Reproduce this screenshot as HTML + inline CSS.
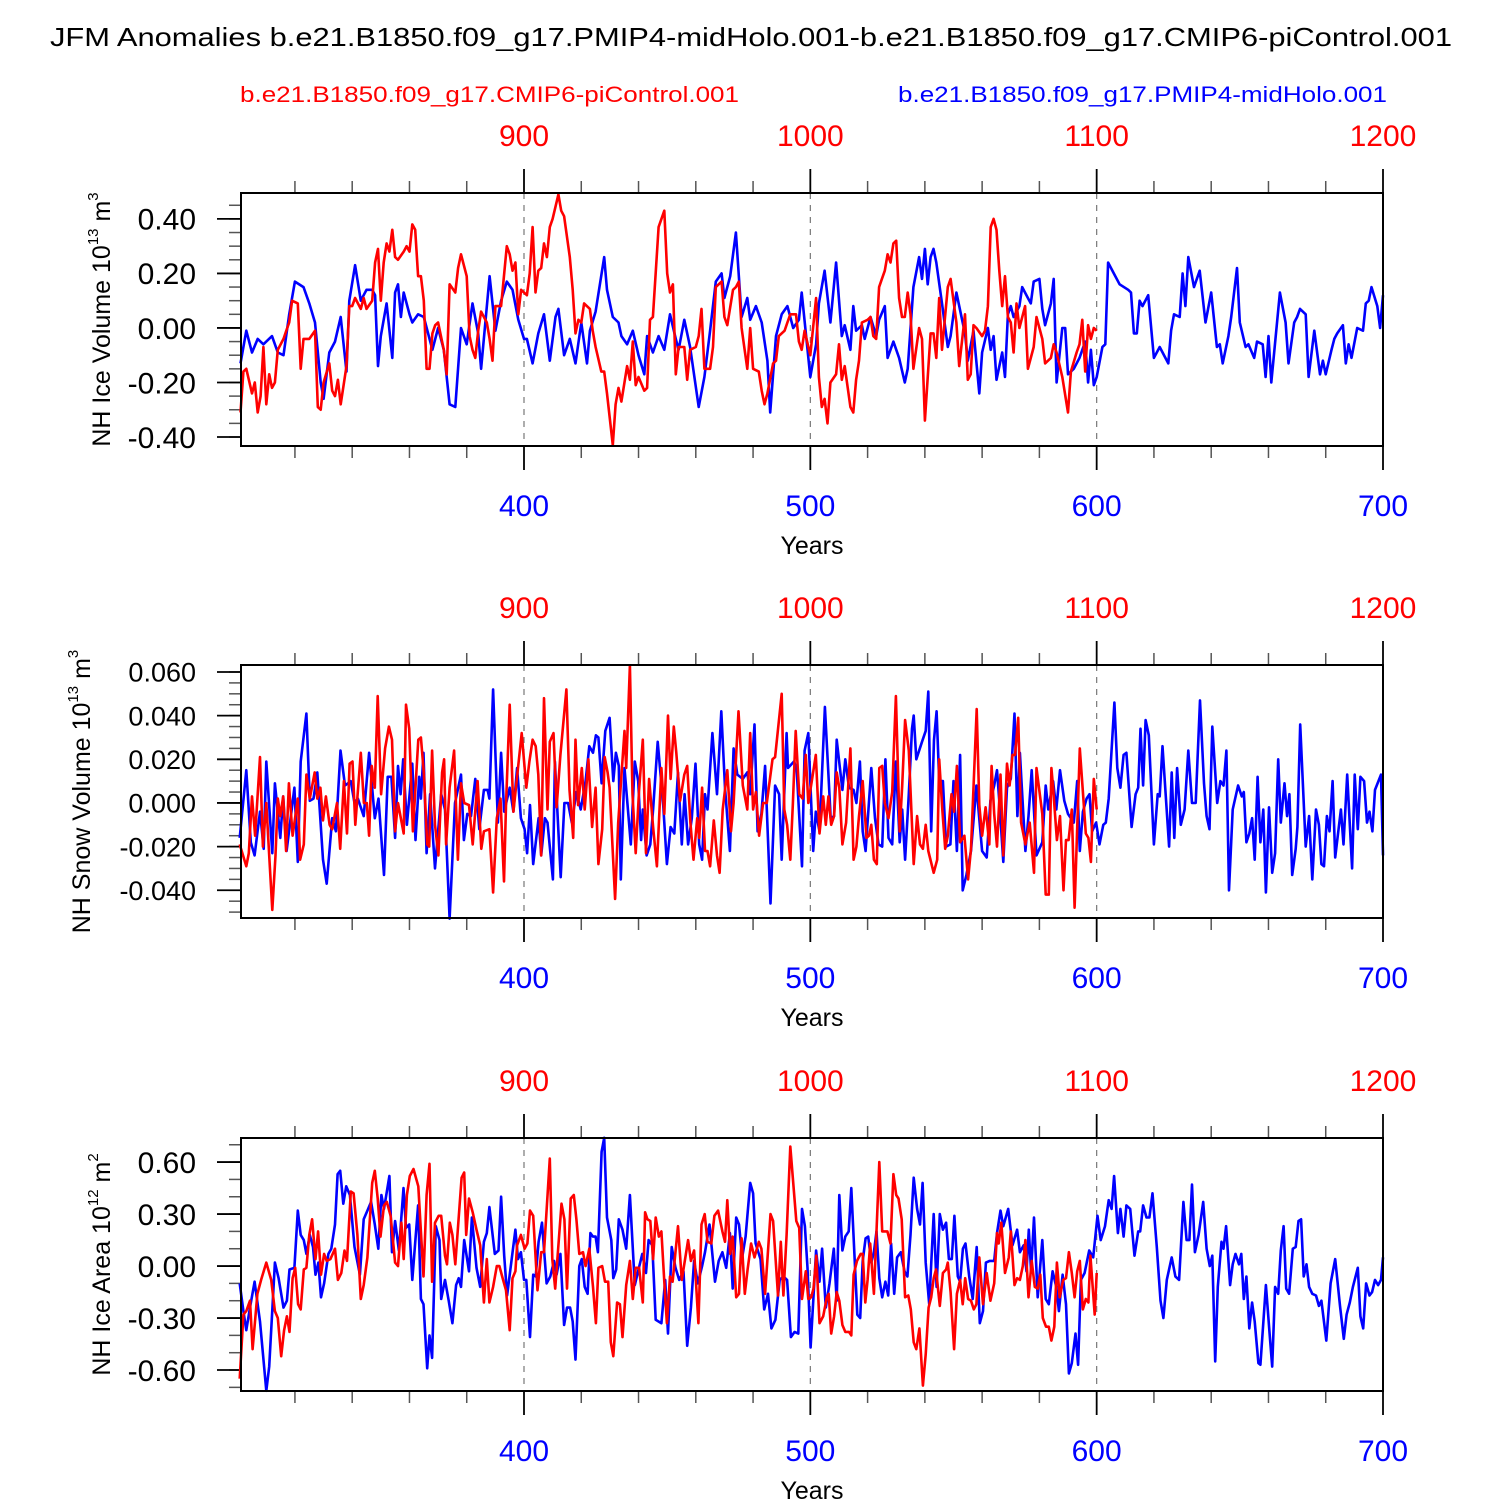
<!DOCTYPE html>
<html><head><meta charset="utf-8"><title>JFM Anomalies</title>
<style>html,body{margin:0;padding:0;background:#fff;}svg{display:block;font-family:"Liberation Sans",sans-serif;}</style>
</head><body>
<svg id="chart" width="1500" height="1500" viewBox="0 0 1500 1500" xmlns="http://www.w3.org/2000/svg">
<rect x="0" y="0" width="1500" height="1500" fill="#fff"/>
<text x="50" y="46" font-size="26" textLength="1402" lengthAdjust="spacingAndGlyphs" fill="#000">JFM Anomalies b.e21.B1850.f09_g17.PMIP4-midHolo.001-b.e21.B1850.f09_g17.CMIP6-piControl.001</text>
<text x="240" y="102" font-size="22" textLength="499" lengthAdjust="spacingAndGlyphs" fill="#ff0000">b.e21.B1850.f09_g17.CMIP6-piControl.001</text>
<text x="898" y="102" font-size="22" textLength="489" lengthAdjust="spacingAndGlyphs" fill="#0000ff">b.e21.B1850.f09_g17.PMIP4-midHolo.001</text>
<g id="panels"></g>
</svg>
<script>
// ---------- Panel 1: NH Ice Volume ----------
const p1BlueYears=[301,303,305,307,309,312,314,316,318,320,323,325,327,329,330,332,334,336,338,339,341,343,345,347,348,349,350,352,354,355,356,357,358,360,361,363,365,368,370,372,374,376,378,380,382,384,385,388,390,392,394,396,398,400,401,403,405,407,409,411,412,414,416,418,420,422,423,425,428,429,431,433,434,436,438,440,442,443,445,447,449,451,453,454,456,458,461,463,465,467,469,470,472,474,476,478,479,481,483,485,486,488,490,492,494,496,497,500,502,
503,505,507,509,511,512,514,515,516,518,519,521,523,524,526,527,529,531,533,534,536,538,539,540,541,542,543,544,546,548,549,551,553,554,555,557,559,560,562,563,564,565,567,568,569,570,571,573,574,576,577,578,580,581,582,584,585,586,588,589,590,592,594,596,597,598,599,600,602,603,604,606,608,611,612,613,614,615,616,618,620,622,624,625,626,627,629,630,631,632,634,636,638,640,642,643,644,646,647,649,650,652,653,655,656,658,659,660,661,664,666,667,669,670,671,673,674,676,678,679,680,682,683,684,686,687,688,689,691,693,694,695,696,698,699,700];
const p1BlueVals=[-0.13,-0.01,-0.09,-0.04,-0.06,-0.03,-0.09,-0.10,0.05,0.17,0.15,0.09,0.02,-0.20,-0.26,-0.09,-0.05,0.04,-0.16,0.10,0.23,0.10,0.14,0.14,0.12,-0.14,-0.03,0.09,-0.11,0.13,0.16,0.04,0.13,0.05,0.02,0.05,0.04,-0.08,0.00,-0.08,-0.28,-0.29,0.00,-0.06,0.09,-0.02,-0.15,0.19,-0.01,0.10,0.17,0.14,0.03,-0.04,-0.04,-0.13,-0.02,0.05,-0.12,0.04,0.07,-0.10,-0.04,-0.13,0.02,-0.13,-0.01,0.06,0.26,0.14,0.04,0.02,-0.03,-0.06,-0.01,-0.10,-0.17,-0.03,-0.09,-0.03,-0.08,0.05,-0.04,-0.08,0.03,-0.07,-0.29,-0.18,-0.01,0.17,0.20,0.11,0.19,0.35,0.04,0.11,0.03,0.08,0.02,-0.12,-0.31,-0.03,0.05,0.08,0.00,0.03,0.13,-0.18,-0.06,
0.09,0.21,0.02,0.24,-0.03,0.01,-0.08,0.08,-0.01,0.01,-0.04,0.04,-0.03,0.03,0.08,-0.11,-0.05,-0.11,-0.20,-0.15,0.15,0.26,0.18,0.29,0.16,0.26,0.29,0.24,0.09,-0.07,-0.03,0.13,0.03,-0.02,-0.12,-0.01,-0.24,-0.09,0.00,-0.08,-0.03,-0.19,-0.09,-0.18,0.05,0.08,0.04,0.08,0.15,0.11,0.09,0.17,0.18,0.07,0.01,0.09,0.18,-0.20,0.00,0.00,-0.17,-0.15,-0.11,-0.05,-0.20,-0.08,-0.21,-0.18,-0.07,-0.06,0.24,0.20,0.16,0.14,0.13,-0.02,-0.02,0.10,0.08,0.12,-0.11,-0.07,-0.11,-0.13,-0.01,0.05,0.04,0.20,0.08,0.26,0.15,0.21,0.02,0.13,-0.07,-0.06,-0.13,-0.03,0.04,0.22,0.02,-0.07,-0.06,-0.11,-0.05,-0.06,-0.18,-0.03,-0.20,0.13,0.02,-0.13,0.02,0.04,0.07,0.05,-0.18,-0.01,-0.17,-0.12,-0.17,-0.08,-0.04,-0.02,0.01,-0.13,-0.06,-0.11,0.00,-0.01,0.09,0.10,0.15,0.08,0.00,0.12];
const p1RedYears=[801,802,803,805,806,807,808,809,810,811,812,813,814,816,817,818,819,821,822,823,825,827,828,829,830,832,833,834,835,836,838,839,840,841,843,844,845,847,848,849,850,851,852,853,854,855,856,858,859,860,861,862,863,864,865,866,867,868,869,870,872,873,874,876,877,878,880,881,882,883,884,885,887,888,889,890,892,894,895,896,897,898,899,901,902,903,904,905,906,907,908,909,910,912,913,914,916,917,918,919,920,921,923,924,925,927,928,929,931,932,933,934,936,937,938,939,940,942,943,944,945,947,949,950,951,952,953,954,956,957,958,960,961,962,963,965,966,967,969,970,971,973,974,975,976,978,979,980,982,983,984,985,987,988,989,991,992,993,995,996,997,998,1000,1002,1003,1004,1005,1006,1007,1009,1010,1011,1012,1014,1015,1016,1017,1018,1020,1021,1022,1023,1024,1025,1026,1027,1028,1029,1030,1031,1032,1033,1034,1035,1036,1038,1039,1040,1042,1043,1044,1045,1046,1048,1049,1051,1052,1054,1055,1056,1057,1058,1060,1061,1062,1063,1064,1065,1066,1067,1068,1069,1070,1071,1072,1073,1075,1076,1078,1079,1081,1082,1084,1085,1086,1088,1090,1091,1093,1094,1095,1096,1097,1098,1099,1100];
const p1RedVals=[-0.31,-0.16,-0.15,-0.24,-0.20,-0.31,-0.25,-0.07,-0.28,-0.17,-0.22,-0.20,-0.08,-0.04,-0.01,0.02,0.10,0.09,-0.15,-0.04,-0.04,-0.01,-0.29,-0.30,-0.20,-0.13,-0.23,-0.25,-0.19,-0.28,-0.14,0.08,0.08,0.11,0.07,0.11,0.07,0.10,0.24,0.29,0.10,0.24,0.31,0.28,0.36,0.26,0.25,0.28,0.30,0.28,0.38,0.36,0.19,0.19,0.10,-0.15,-0.15,-0.02,0.01,0.02,-0.08,-0.17,0.16,0.13,0.22,0.27,0.19,-0.03,-0.08,-0.11,-0.01,0.06,0.02,-0.04,-0.12,0.08,0.08,0.30,0.27,0.21,0.24,0.05,0.14,0.12,0.20,0.37,0.13,0.21,0.22,0.31,0.26,0.37,0.40,0.49,0.43,0.41,0.26,0.14,-0.02,0.03,0.02,0.09,0.07,-0.01,-0.07,-0.16,-0.16,-0.24,-0.43,-0.28,-0.22,-0.27,-0.14,-0.19,-0.05,-0.21,-0.18,-0.23,-0.22,0.03,0.04,0.37,0.43,0.20,0.13,0.16,-0.17,-0.07,-0.07,-0.19,-0.08,-0.07,-0.03,0.07,-0.15,-0.15,-0.07,0.15,0.17,0.04,0.01,0.14,0.15,0.17,0.00,-0.15,0.00,-0.15,-0.16,-0.23,-0.28,-0.24,-0.13,-0.12,-0.03,-0.01,0.02,0.05,0.05,-0.05,-0.08,-0.01,-0.10,0.11,-0.18,-0.29,-0.26,-0.35,-0.20,-0.17,-0.06,-0.19,-0.14,-0.29,-0.31,-0.19,-0.12,0.02,0.03,0.04,-0.03,-0.04,0.15,0.18,0.21,0.27,0.24,0.31,0.32,0.11,0.04,0.04,0.13,0.05,-0.15,0.00,-0.04,-0.34,-0.02,-0.02,-0.11,0.11,-0.08,0.15,0.18,0.02,-0.14,0.05,-0.19,-0.17,0.01,0.00,-0.03,-0.01,0.08,0.37,0.40,0.36,0.21,0.08,0.19,0.04,0.02,-0.09,0.09,0.00,0.08,-0.15,-0.07,0.04,-0.04,-0.13,-0.11,-0.06,-0.09,-0.18,-0.31,-0.16,-0.09,-0.06,0.03,-0.16,0.01,-0.04,0.00,-0.01];

// ---------- Panel 2: NH Snow Volume ----------
const p2BlueYears=[300.7,303.0,304.6,305.9,307.8,309.1,310.0,312.1,313.0,314.9,315.9,317.1,319.8,321.0,322.0,324.0,325.2,326.5,327.8,329.8,331.1,333.0,334.3,335.9,337.5,339.5,340.8,342.0,344.0,345.9,347.9,349.2,351.1,352.4,353.7,355.0,356.0,356.9,357.8,359.1,361.0,362.1,363.4,364.0,364.9,366.0,367.2,368.9,371.1,372.4,374.0,375.9,378.0,379.0,380.2,381.5,383.0,384.4,386.0,387.3,387.9,389.2,390.9,392.0,393.1,395.0,396.3,397.6,398.9,400.2,401.1,402.1,403.2,405.1,406.0,407.3,408.2,410.1,410.8,412.8,414.1,415.4,416.7,418.3,419.8,421.5,422.8,424.1,425.1,426.0,427.1,428.4,429.9,431.2,432.1,433.1,433.8,435.1,437.3,438.7,439.9,440.9,441.5,442.8,444.1,445.1,446.7,448.6,449.9,451.2,452.5,453.8,455.1,456.1,457.3,458.6,459.9,461.2,462.2,463.2,464.1,465.8,467.4,468.9,470.2,471.9,473.2,474.5,476.4,478.0,479.0,480.5,481.6,482.9,484.2,486.1,487.7,489.1,490.0,491.7,492.2,494.3,495.2,497.1,498.0,499.3,501.0,
501.9,503.2,505.1,507.1,508.3,509.2,511.2,512.2,513.5,515.1,516.1,517.3,518.3,519.3,521.3,522.6,523.8,525.1,526.2,527.3,528.6,529.9,531.2,532.1,533.1,534.4,535.5,536.1,537.0,539.0,540.3,541.2,542.2,543.2,544.1,545.0,546.3,547.4,548.9,550.0,551.2,552.3,553.2,554.5,556.1,558.0,560.0,561.6,562.9,564.2,565.2,566.1,567.4,568.7,570.0,571.3,572.3,573.2,573.8,575.1,576.2,577.3,579.0,581.0,582.2,583.1,584.8,585.9,587.2,588.7,590.0,592.0,593.2,594.1,595.2,596.5,597.5,598.4,599.8,601.0,602.3,603.2,604.2,606.2,607.2,608.3,609.4,610.4,612.2,613.6,614.5,615.3,616.2,617.1,618.2,620.0,621.3,622.0,623.0,625.3,626.2,627.1,628.1,629.4,630.7,632.0,633.3,634.6,636.1,637.5,638.4,639.4,640.4,642.1,643.2,644.3,645.3,646.2,647.5,649.4,650.7,651.4,652.3,653.3,654.3,655.2,656.2,657.2,658.2,659.1,660.2,661.3,662.3,663.4,664.3,665.6,666.5,667.3,668.3,669.5,670.1,671.1,673.0,674.2,675.3,676.6,677.6,678.5,679.4,680.4,681.3,682.4,683.3,685.3,686.2,687.5,689.2,690.1,691.2,692.1,693.4,694.4,695.3,696.3,697.2,699.3,700.0];
const p2BlueVals=[-0.016,0.015,-0.018,-0.024,-0.004,-0.021,0.019,-0.023,0.009,-0.016,0.003,-0.022,0.007,-0.027,0.019,0.041,0.001,0.002,0.014,-0.026,-0.037,-0.007,-0.013,0.024,0.008,0.010,0.000,0.002,-0.006,0.023,-0.007,0.002,-0.033,0.012,0.012,-0.016,0.017,0.004,0.020,-0.010,0.018,-0.017,0.012,0.002,0.023,-0.023,0.004,-0.030,0.004,-0.003,-0.053,0.000,0.013,-0.017,-0.005,-0.006,0.011,-0.012,0.006,0.006,0.002,0.052,-0.009,0.023,-0.004,0.007,-0.004,0.016,-0.007,-0.012,-0.023,-0.001,-0.028,-0.007,-0.024,-0.007,-0.009,-0.035,0.019,-0.034,0.000,0.000,-0.009,0.005,-0.003,0.010,0.026,0.023,0.031,0.030,0.009,0.033,0.039,0.010,0.023,0.017,-0.035,0.016,-0.019,0.019,0.010,-0.017,-0.003,-0.024,-0.019,-0.003,0.028,-0.001,-0.028,-0.011,-0.014,0.014,-0.019,0.004,-0.019,-0.007,0.018,-0.019,-0.026,0.004,-0.003,0.032,0.004,0.042,0.007,-0.022,0.025,0.013,0.011,0.014,0.004,0.036,-0.013,-0.005,0.017,-0.046,0.008,0.004,-0.026,0.032,0.016,0.019,0.016,-0.029,0.024,0.032,-0.022,
-0.004,-0.013,0.044,-0.007,-0.006,0.029,0.006,0.020,0.007,0.006,0.000,0.019,-0.013,-0.022,0.016,-0.007,-0.019,-0.020,0.020,-0.016,-0.019,0.019,-0.018,-0.003,-0.026,0.004,0.034,0.040,0.020,0.028,0.033,0.051,-0.013,0.029,0.042,0.010,0.010,-0.020,-0.019,0.010,-0.022,0.022,-0.040,-0.033,-0.022,0.008,-0.022,-0.025,0.001,0.008,0.015,-0.001,-0.027,0.007,0.011,0.041,-0.006,0.023,0.009,-0.022,-0.006,0.015,-0.024,-0.018,0.008,-0.003,0.010,-0.003,0.015,0.001,-0.005,-0.009,0.010,-0.022,-0.004,0.002,0.004,-0.013,-0.009,-0.019,-0.010,-0.009,0.002,0.046,0.016,0.007,0.022,0.023,-0.011,0.004,0.007,0.034,0.008,0.038,0.031,-0.019,0.004,0.003,0.026,-0.020,0.014,-0.016,0.016,-0.010,-0.003,0.024,0.000,0.000,0.047,0.009,-0.006,-0.012,0.035,0.000,0.010,0.008,0.024,-0.040,-0.003,0.008,0.003,0.005,-0.018,-0.014,-0.007,-0.026,0.012,-0.018,-0.003,-0.041,-0.002,-0.032,-0.023,0.020,-0.009,0.009,-0.006,0.004,-0.033,-0.021,-0.011,0.036,-0.020,-0.006,-0.035,-0.003,-0.010,-0.028,-0.029,-0.006,-0.013,0.010,-0.025,-0.003,-0.019,0.013,-0.030,0.013,-0.012,0.012,0.010,-0.009,-0.004,-0.013,0.006,0.013,-0.024];
const p2RedYears=[800.7,803.0,803.9,805.0,806.1,807.8,808.8,810.0,811.0,812.1,813.2,814.0,814.9,815.9,816.9,817.9,819.2,821.0,821.8,823.1,824.0,825.2,826.9,827.8,828.9,829.8,830.8,832.1,833.0,834.7,835.8,837.1,838.2,839.1,840.1,841.1,843.0,844.1,845.1,845.9,846.8,847.9,848.9,850.1,851.5,852.8,853.9,855.0,856.0,858.0,858.8,859.9,861.2,863.1,864.0,865.0,866.2,866.9,867.9,868.9,870.1,871.4,872.1,872.8,874.0,875.6,876.9,878.0,879.1,880.8,882.1,883.8,885.1,886.0,887.9,889.2,890.5,891.8,893.0,893.7,895.0,896.3,897.9,899.2,900.8,901.9,903.0,904.1,905.0,906.0,907.0,908.2,909.0,910.3,911.4,912.7,914.8,915.9,917.2,918.0,918.9,920.2,921.2,922.5,923.8,925.0,926.0,927.3,928.2,929.2,929.9,931.8,932.9,935.1,935.7,937.0,937.9,939.0,940.2,941.5,942.6,943.7,945.1,946.4,948.0,949.0,950.3,951.2,952.3,953.2,954.5,956.0,957.0,958.1,959.2,960.5,961.2,962.2,963.2,964.1,965.0,966.3,967.4,968.3,969.4,971.0,972.3,973.2,974.9,976.4,978.0,979.0,980.0,981.0,982.1,983.5,984.8,986.8,987.7,990.0,990.9,991.9,993.0,993.9,994.9,996.1,997.3,998.4,999.3,1000.5,
1001.9,1003.2,1004.5,1005.4,1006.3,1007.3,1008.3,1009.2,1010.1,1011.2,1012.5,1014.0,1015.1,1016.1,1017.0,1018.3,1019.6,1020.5,1021.3,1022.2,1023.2,1024.1,1025.1,1026.0,1027.3,1028.6,1029.9,1031.2,1032.1,1033.1,1034.4,1036.1,1037.3,1038.3,1039.3,1040.3,1041.2,1043.1,1044.3,1045.0,1046.1,1047.1,1048.0,1049.3,1050.2,1051.2,1052.3,1053.8,1055.1,1056.1,1058.1,1059.0,1060.0,1061.2,1062.5,1063.3,1064.2,1065.2,1066.4,1067.4,1068.7,1069.6,1070.6,1071.5,1072.6,1073.6,1075.1,1076.6,1078.1,1079.0,1081.0,1082.2,1083.3,1084.2,1084.8,1086.1,1087.2,1088.4,1089.3,1090.2,1091.3,1092.3,1094.1,1095.2,1096.2,1097.1,1098.0,1099.0,1100.0];
const p2RedVals=[-0.019,-0.029,-0.023,0.003,-0.015,0.021,-0.020,0.000,-0.024,-0.049,-0.024,0.002,-0.006,0.003,-0.022,0.009,-0.015,0.002,-0.026,-0.019,0.013,0.002,0.014,0.002,0.007,-0.008,0.003,-0.010,-0.012,0.000,-0.021,0.010,-0.014,0.018,0.019,-0.010,0.023,0.000,0.000,-0.015,0.017,0.007,0.049,0.004,0.025,0.035,0.029,-0.013,0.000,-0.014,0.045,0.034,-0.013,0.029,0.030,0.014,-0.019,-0.020,0.024,-0.010,-0.024,0.014,0.020,-0.019,0.007,0.024,-0.026,0.009,0.000,-0.001,-0.019,0.010,-0.021,-0.013,-0.012,-0.041,-0.007,0.002,-0.036,-0.001,0.045,-0.004,0.016,0.032,0.007,0.019,0.029,0.026,0.013,-0.024,0.048,-0.003,0.028,0.032,-0.002,0.022,0.052,0.006,-0.016,0.029,-0.001,0.016,-0.003,0.020,-0.011,0.007,-0.028,-0.012,0.021,0.014,0.007,-0.044,-0.009,0.033,0.016,0.063,0.004,-0.023,0.006,0.029,-0.023,0.011,-0.011,-0.029,0.016,-0.005,0.040,0.011,0.035,0.023,0.001,0.013,0.017,-0.009,-0.026,-0.007,-0.016,0.007,-0.022,-0.022,-0.029,-0.008,-0.024,-0.032,-0.003,0.015,-0.013,0.000,0.042,0.008,-0.003,0.032,-0.003,0.005,-0.015,0.000,0.000,0.020,0.021,0.050,-0.003,-0.010,-0.026,0.000,0.033,0.004,0.002,0.022,0.000,0.010,
0.022,-0.014,0.003,-0.010,0.003,-0.010,-0.006,0.014,0.007,-0.019,-0.009,0.025,-0.026,-0.020,-0.006,0.010,-0.016,-0.015,-0.010,-0.026,-0.028,0.016,0.017,0.000,-0.007,0.005,0.049,-0.013,0.008,0.038,0.024,-0.028,-0.006,-0.019,-0.021,-0.010,-0.022,-0.032,-0.026,0.020,-0.003,-0.021,-0.015,0.004,-0.004,0.017,-0.018,-0.015,-0.035,-0.021,0.043,-0.001,-0.015,-0.002,-0.019,0.017,-0.005,-0.020,0.013,-0.024,0.018,0.008,0.022,0.022,0.039,-0.009,-0.019,-0.009,-0.032,0.016,-0.005,-0.042,-0.042,0.016,0.007,-0.017,-0.006,-0.040,-0.017,-0.017,-0.003,-0.048,0.025,0.005,-0.014,-0.016,-0.027,0.011,-0.003];

// ---------- Panel 3: NH Ice Area ----------
const p3BlueYears=[300.7,302.0,303.0,304.3,305.9,307.8,310.0,311.0,313.0,314.3,316.0,317.2,318.1,319.8,321.0,322.0,323.1,324.0,325.2,326.3,327.2,328.2,329.1,330.2,331.7,332.7,334.0,334.9,335.8,336.9,337.9,339.2,340.8,342.7,344.0,345.3,346.6,347.9,349.1,350.2,351.1,353.0,353.9,355.0,356.3,357.9,358.8,359.9,361.0,363.0,364.0,364.9,366.2,367.0,367.9,369.2,370.5,371.1,372.4,373.7,375.0,376.3,377.2,378.0,379.1,380.8,381.8,383.4,384.7,386.0,387.0,387.9,389.8,391.1,392.0,393.1,394.1,397.0,397.9,398.9,400.0,400.8,402.1,403.2,404.1,405.1,406.3,407.9,409.2,410.5,411.4,412.7,414.0,415.0,416.1,417.0,418.0,419.3,420.2,421.2,422.2,423.2,424.1,425.0,425.8,427.1,428.0,429.0,430.5,431.2,432.2,433.1,434.4,435.7,437.0,438.7,440.0,441.3,442.6,443.5,444.8,446.0,448.0,449.3,450.3,451.6,452.9,454.2,455.7,457.0,458.3,459.4,460.7,462.2,463.2,464.8,466.7,468.0,469.3,470.6,471.9,472.9,474.1,475.1,476.2,477.4,479.0,480.0,480.9,482.6,483.9,485.2,486.4,487.8,489.3,490.6,491.9,493.2,494.5,495.8,497.1,498.1,499.0,500.1,502.0,
503.2,504.1,505.4,506.7,508.2,509.2,510.1,511.2,512.2,513.4,514.3,515.4,516.4,517.4,518.3,519.3,520.2,521.3,522.2,523.1,524.1,525.1,526.2,527.2,528.2,529.3,530.3,531.6,532.9,533.9,535.0,536.1,537.3,538.3,539.2,540.3,541.5,543.1,544.1,545.2,546.3,547.4,548.4,549.4,550.3,551.5,552.3,553.3,554.2,555.5,556.7,558.1,559.2,560.3,561.3,562.6,564.2,565.2,566.4,567.4,569.1,570.6,572.2,573.2,574.5,575.5,576.3,577.1,578.1,579.4,581.0,582.2,583.3,584.6,585.9,586.8,588.1,589.3,590.3,591.3,592.6,593.5,594.5,595.8,597.4,598.8,600.3,601.4,602.9,604.2,605.2,606.1,607.4,608.3,609.4,610.4,611.7,613.2,614.5,615.2,616.2,617.4,618.4,619.5,621.0,622.3,623.3,624.5,626.2,627.5,628.8,630.3,631.4,632.4,633.3,634.3,635.6,637.2,638.4,639.5,640.4,641.4,642.3,643.6,644.3,645.2,646.6,647.5,648.5,649.7,650.5,651.4,652.3,653.3,654.3,655.2,656.5,657.2,659.1,660.4,661.3,662.3,663.4,664.3,665.3,666.2,667.2,668.5,669.5,670.5,671.4,672.3,673.3,674.2,675.3,676.6,677.6,678.5,680.2,681.7,683.3,685.0,686.3,687.3,688.4,689.5,691.2,692.1,693.1,694.1,695.3,696.2,697.2,698.3,699.3,700.0];
const p3BlueVals=[-0.10,-0.26,-0.37,-0.24,-0.09,-0.32,-0.72,-0.58,0.02,-0.07,-0.24,-0.20,-0.02,-0.01,0.32,0.18,0.15,0.07,0.18,0.11,-0.05,0.02,-0.18,-0.10,0.07,0.10,0.24,0.53,0.55,0.36,0.46,0.41,0.11,-0.05,0.27,0.32,0.37,0.24,0.10,0.41,0.33,0.52,0.08,0.26,0.09,0.45,0.22,0.24,-0.08,0.35,-0.19,-0.22,-0.59,-0.40,-0.53,0.23,0.15,-0.19,-0.08,-0.20,-0.33,-0.11,-0.07,-0.12,0.15,-0.03,0.28,-0.01,-0.12,0.14,0.19,0.34,0.07,0.09,0.40,0.06,-0.17,0.21,0.04,0.08,-0.08,-0.08,-0.41,-0.05,-0.06,0.14,0.25,-0.10,-0.06,0.03,-0.05,0.07,-0.34,-0.24,-0.24,-0.32,-0.54,0.00,0.04,-0.12,-0.16,0.19,0.17,0.17,0.08,0.66,0.74,0.28,0.15,-0.07,-0.02,0.27,0.21,0.10,0.41,-0.11,-0.02,0.07,-0.04,0.15,0.12,-0.31,-0.33,-0.08,-0.39,0.11,-0.01,-0.08,-0.03,-0.46,-0.24,0.03,-0.10,0.00,0.08,0.24,-0.09,0.03,0.08,-0.01,0.19,-0.13,0.28,0.24,0.05,0.17,0.48,0.42,0.13,0.04,-0.25,-0.16,-0.36,-0.31,-0.08,-0.06,-0.08,-0.41,-0.38,-0.39,0.33,0.23,-0.01,-0.47,0.09,
-0.09,0.10,-0.24,-0.10,0.10,-0.20,0.41,0.09,0.17,0.20,0.45,0.07,-0.28,-0.30,0.03,0.16,0.17,0.02,0.08,0.20,-0.07,-0.18,-0.09,-0.17,0.13,-0.16,0.05,0.08,-0.03,-0.06,0.18,0.51,0.33,0.24,0.48,0.02,-0.22,0.30,-0.12,0.30,0.21,0.25,0.04,0.04,0.29,-0.06,-0.09,0.10,0.13,-0.06,-0.19,0.11,-0.33,-0.26,0.02,0.03,0.03,0.19,0.32,0.23,0.33,0.12,0.21,0.08,0.12,-0.03,0.21,-0.03,0.28,-0.18,0.15,-0.19,-0.22,-0.03,-0.12,-0.26,-0.05,-0.22,-0.62,-0.56,-0.39,-0.57,-0.08,-0.04,0.09,0.05,0.29,0.15,0.23,0.38,0.33,0.52,0.19,0.33,0.17,0.35,0.33,0.06,0.20,0.20,0.35,0.28,0.28,0.42,0.11,-0.20,-0.30,-0.08,0.05,-0.06,-0.08,0.37,0.15,0.15,0.47,0.08,0.18,0.37,0.10,0.00,0.06,-0.55,-0.12,0.14,0.10,0.23,-0.11,0.01,0.07,0.01,0.07,-0.19,-0.06,-0.36,-0.21,-0.32,-0.56,-0.57,-0.11,-0.39,-0.58,-0.12,-0.16,0.09,0.23,-0.13,-0.16,0.10,0.11,0.26,0.27,-0.06,0.01,-0.12,-0.16,-0.17,-0.23,-0.20,-0.43,-0.10,0.04,-0.23,-0.42,-0.28,-0.21,-0.12,-0.01,-0.29,-0.36,-0.10,-0.17,-0.15,-0.08,-0.11,-0.08,0.05];
const p3RedYears=[800.7,802.0,803.0,804.3,805.2,806.9,808.2,810.0,811.7,813.0,814.0,815.2,816.2,817.2,818.1,819.2,820.1,821.1,822.0,823.1,824.0,825.0,826.0,827.2,828.1,829.1,830.2,831.1,832.4,834.0,835.0,836.2,837.3,838.2,839.5,840.5,841.8,843.0,844.0,845.3,847.0,847.9,848.9,849.9,851.1,852.1,853.4,855.0,856.0,857.2,858.0,859.1,860.1,861.4,863.1,864.9,866.0,867.0,867.9,868.9,870.2,871.1,872.4,873.1,874.1,875.0,876.0,878.2,879.1,879.8,880.8,882.1,883.4,884.7,886.0,887.0,887.9,889.2,890.5,891.4,892.7,893.7,895.0,896.0,897.0,897.6,898.9,900.2,901.2,902.1,903.2,904.7,906.0,907.0,909.0,909.9,910.9,913.1,914.1,915.0,916.3,917.4,918.3,919.3,920.6,921.5,922.8,924.1,925.1,926.0,927.3,928.3,929.4,930.3,931.2,932.5,933.5,934.4,935.7,937.0,938.0,939.0,940.2,941.5,942.3,943.1,944.1,945.1,946.0,947.1,948.0,949.0,949.9,951.0,951.9,953.8,955.1,957.3,958.3,959.4,960.9,962.0,963.1,964.1,965.4,966.5,967.8,969.3,970.2,971.0,972.0,972.9,974.1,975.1,976.0,977.1,978.1,979.3,980.5,982.0,982.9,984.2,986.1,987.0,988.7,989.7,990.6,991.7,993.0,995.1,996.1,997.1,998.4,999.3,1000.3,
1001.1,1002.1,1003.2,1004.5,1005.8,1006.4,1007.3,1008.3,1009.2,1010.1,1011.2,1012.2,1013.5,1014.3,1015.1,1016.3,1017.6,1018.3,1019.2,1020.0,1020.9,1022.2,1023.1,1024.1,1025.1,1026.0,1026.9,1028.0,1029.0,1030.0,1030.8,1031.9,1033.1,1034.2,1035.1,1036.1,1037.0,1038.1,1039.3,1040.3,1041.3,1042.2,1043.1,1043.9,1045.2,1046.3,1047.4,1048.0,1049.0,1050.2,1051.2,1052.3,1053.2,1054.1,1055.1,1056.1,1057.1,1058.0,1059.0,1060.3,1061.6,1062.9,1064.2,1065.2,1065.8,1066.7,1068.0,1069.3,1070.0,1071.3,1072.2,1073.2,1074.2,1075.1,1076.2,1077.3,1078.4,1079.4,1080.3,1081.2,1082.3,1083.3,1084.2,1085.2,1086.1,1087.1,1088.3,1089.3,1090.3,1091.3,1092.3,1093.2,1094.1,1095.2,1096.2,1097.1,1097.8,1099.3,1100.0];
const p3RedVals=[-0.65,-0.28,-0.26,-0.20,-0.48,-0.16,-0.08,0.02,-0.08,-0.26,-0.30,-0.52,-0.37,-0.29,-0.38,-0.07,-0.01,-0.22,-0.25,-0.02,-0.01,0.18,0.27,0.04,0.20,-0.05,0.07,0.03,0.04,0.10,-0.08,-0.04,0.09,0.03,0.43,0.42,0.18,-0.19,-0.11,0.05,0.48,0.55,0.39,0.17,0.35,0.37,0.29,0.02,0.00,0.25,0.04,0.41,0.52,0.56,0.46,-0.06,0.41,0.59,-0.09,0.25,0.29,0.29,0.06,0.01,0.25,0.18,0.01,0.51,0.54,0.18,0.39,0.31,0.21,0.12,-0.21,0.04,-0.21,-0.12,0.00,0.00,-0.08,-0.14,-0.37,-0.07,-0.03,0.12,0.18,0.10,0.13,0.32,0.29,-0.14,0.08,0.08,0.62,0.04,-0.13,0.36,0.27,-0.13,0.39,0.41,0.27,0.07,0.08,0.00,0.10,-0.12,-0.33,-0.01,0.00,-0.09,-0.09,-0.44,-0.52,-0.21,-0.22,-0.41,-0.11,0.03,-0.19,-0.01,-0.01,-0.21,0.31,0.27,0.26,0.04,0.28,0.17,0.20,-0.09,-0.33,-0.06,-0.09,0.23,-0.08,0.15,0.03,0.09,-0.33,0.24,0.30,0.14,0.13,0.29,0.32,0.20,0.14,0.38,0.07,0.17,-0.18,-0.16,0.16,-0.16,-0.02,0.13,0.05,0.14,0.10,-0.16,0.30,0.26,-0.17,0.14,-0.17,0.18,0.69,0.26,0.22,-0.19,-0.03,-0.19,-0.18,
-0.13,0.06,-0.33,-0.29,-0.18,-0.16,-0.39,-0.29,-0.15,-0.20,-0.34,-0.38,-0.38,-0.40,-0.05,0.03,0.07,0.07,-0.21,-0.08,0.13,-0.16,0.20,0.60,0.20,0.20,0.20,0.13,0.53,0.41,0.39,0.27,-0.18,-0.17,-0.25,-0.44,-0.48,-0.36,-0.69,-0.51,-0.24,-0.18,-0.07,-0.02,-0.23,-0.04,-0.02,0.02,-0.15,-0.48,-0.16,-0.08,-0.22,-0.07,-0.19,-0.20,-0.25,-0.22,0.05,-0.22,-0.04,-0.20,-0.10,0.19,0.13,0.25,-0.04,0.05,0.20,-0.11,-0.07,-0.08,0.00,0.15,-0.18,0.03,-0.12,-0.13,-0.05,-0.30,-0.35,-0.35,-0.43,-0.35,0.02,-0.18,-0.08,-0.07,0.08,-0.04,-0.18,-0.03,0.03,-0.25,-0.19,-0.21,0.06,-0.28,-0.04];

// ---------- Axis tick data ----------
const blueTickYears=[400,500,600,700];
const redTickYears=[900,1000,1100,1200];
const minorTickYears=[320,340,360,380,420,440,460,480,520,540,560,580,620,640,660,680];
const gridYears=[400,500,600];
const p1YTicks=[0.40,0.20,0.00,-0.20,-0.40];
const p1YTickLabels=["0.40","0.20","0.00","-0.20","-0.40"];
const p2YTicks=[0.06,0.04,0.02,0.00,-0.02,-0.04];
const p2YTickLabels=["0.060","0.040","0.020","0.000","-0.020","-0.040"];
const p3YTicks=[0.6,0.3,0.0,-0.3,-0.6];
const p3YTickLabels=["0.60","0.30","0.00","-0.30","-0.60"];

const NS="http://www.w3.org/2000/svg";
const PL=241, PR=1383, PH=253;
function xBlue(yr){return 524+(yr-400)*(859/300);}
function xRed(yr){return 524+(yr-900)*(859/300);}
function mk(tag,attrs,parent){const e=document.createElementNS(NS,tag);for(const k in attrs)e.setAttribute(k,attrs[k]);parent.appendChild(e);return e;}

const panels=[
 {name:"ice-volume",top:193,min:-0.433,max:0.495,minorStep:0.05,ticks:p1YTicks,labels:p1YTickLabels,labFont:30,
  bY:p1BlueYears,bV:p1BlueVals,rY:p1RedYears,rV:p1RedVals,title:["NH Ice Volume 10","13"," m","3"],titleX:110},
 {name:"snow-volume",top:665,min:-0.0527,max:0.0632,minorStep:0.005,ticks:p2YTicks,labels:p2YTickLabels,labFont:27,
  bY:p2BlueYears,bV:p2BlueVals,rY:p2RedYears,rV:p2RedVals,title:["NH Snow Volume 10","13"," m","3"],titleX:90},
 {name:"ice-area",top:1138,min:-0.721,max:0.739,minorStep:0.1,ticks:p3YTicks,labels:p3YTickLabels,labFont:30,
  bY:p3BlueYears,bV:p3BlueVals,rY:p3RedYears,rV:p3RedVals,title:["NH Ice Area 10","12"," m","2"],titleX:110}
];
const root=document.getElementById('panels');
panels.forEach(function(p){
  const bot=p.top+PH;
  const yS=function(v){return bot-(v-p.min)/(p.max-p.min)*PH;};
  const g=mk('g',{},root);
  
  
  // grid dashed lines
  gridYears.forEach(function(yr){
    const l=mk('line',{x1:xBlue(yr),x2:xBlue(yr),y1:p.top,y2:bot,stroke:'#777','stroke-width':1.2,'stroke-dasharray':'6,6'},g);
    
    
  });
  // minor y ticks
  const nMin=Math.ceil(p.min/p.minorStep-1e-6), nMax=Math.floor(p.max/p.minorStep+1e-6);
  for(let i=nMin;i<=nMax;i++){
    const yy=yS(i*p.minorStep);
    const t=mk('line',{x1:PL-12,x2:PL,y1:yy,y2:yy,stroke:'#555','stroke-width':1.5},g);
    
    
  }
  // major y ticks + labels
  p.ticks.forEach(function(v,i){
    const yy=yS(v);
    const t=mk('line',{x1:PL-24,x2:PL,y1:yy,y2:yy,stroke:'#000','stroke-width':1.8},g);
    
    
    const tx=mk('text',{x:196,y:yy+p.labFont*0.36,'font-size':p.labFont,'text-anchor':'end',fill:'#000'},g);
    tx.textContent=p.labels[i];
    
    
  });
  // minor x ticks top & bottom
  minorTickYears.forEach(function(yr){
    const x=xBlue(yr);
    const a=mk('line',{x1:x,x2:x,y1:p.top-12,y2:p.top,stroke:'#555','stroke-width':1.5},g);
    
    
    const b=mk('line',{x1:x,x2:x,y1:bot,y2:bot+12,stroke:'#555','stroke-width':1.5},g);
    
    
  });
  // major x ticks, labels
  blueTickYears.forEach(function(yr,i){
    const x=xBlue(yr);
    const b=mk('line',{x1:x,x2:x,y1:bot,y2:bot+24,stroke:'#000','stroke-width':1.8},g);
    
    
    const tb=mk('text',{x:x,y:bot+70,'font-size':30,'text-anchor':'middle',fill:'#0000ff'},g);
    tb.textContent=String(yr);
    
    
  });
  redTickYears.forEach(function(yr){
    const x=xRed(yr);
    const a=mk('line',{x1:x,x2:x,y1:p.top-24,y2:p.top,stroke:'#000','stroke-width':1.8},g);
    
    
    const tr=mk('text',{x:x,y:p.top-47,'font-size':30,'text-anchor':'middle',fill:'#ff0000'},g);
    tr.textContent=String(yr);
    
    
  });
  // x-axis title
  const xt=mk('text',{x:812,y:bot+108,'font-size':25,'text-anchor':'middle',fill:'#000'},g);
  xt.textContent='Years';
  
  
  // y-axis title
  const cy=p.top+PH/2;
  const yt=mk('text',{x:p.titleX,y:cy,'font-size':25,'text-anchor':'middle',fill:'#000',transform:'rotate(-90 '+p.titleX+' '+cy+')'},g);
  
  
  const s1=mk('tspan',{},yt);s1.textContent=p.title[0];
  const s2=mk('tspan',{dy:-12,'font-size':15},yt);s2.textContent=p.title[1];
  const s3=mk('tspan',{dy:12},yt);s3.textContent=p.title[2];
  const s4=mk('tspan',{dy:-12,'font-size':15},yt);s4.textContent=p.title[3];
  // series
  function path(xs,vs,xf){let d='';const n=Math.min(xs.length,vs.length);for(let i=0;i<n;i++){d+=(i?'L':'M')+xf(xs[i]).toFixed(1)+','+yS(vs[i]).toFixed(1);}return d;}
  const bl=mk('path',{d:path(p.bY,p.bV,xBlue),fill:'none',stroke:'#0000ff','stroke-width':2.6,'stroke-linejoin':'round'},g);
  
  
  const rl=mk('path',{d:path(p.rY,p.rV,xRed),fill:'none',stroke:'#ff0000','stroke-width':2.6,'stroke-linejoin':'round'},g);
  
  
  // frame
  const fr=mk('rect',{x:PL,y:p.top,width:PR-PL,height:PH,fill:'none',stroke:'#000','stroke-width':2},g);
  
  
});
</script>
</body></html>
